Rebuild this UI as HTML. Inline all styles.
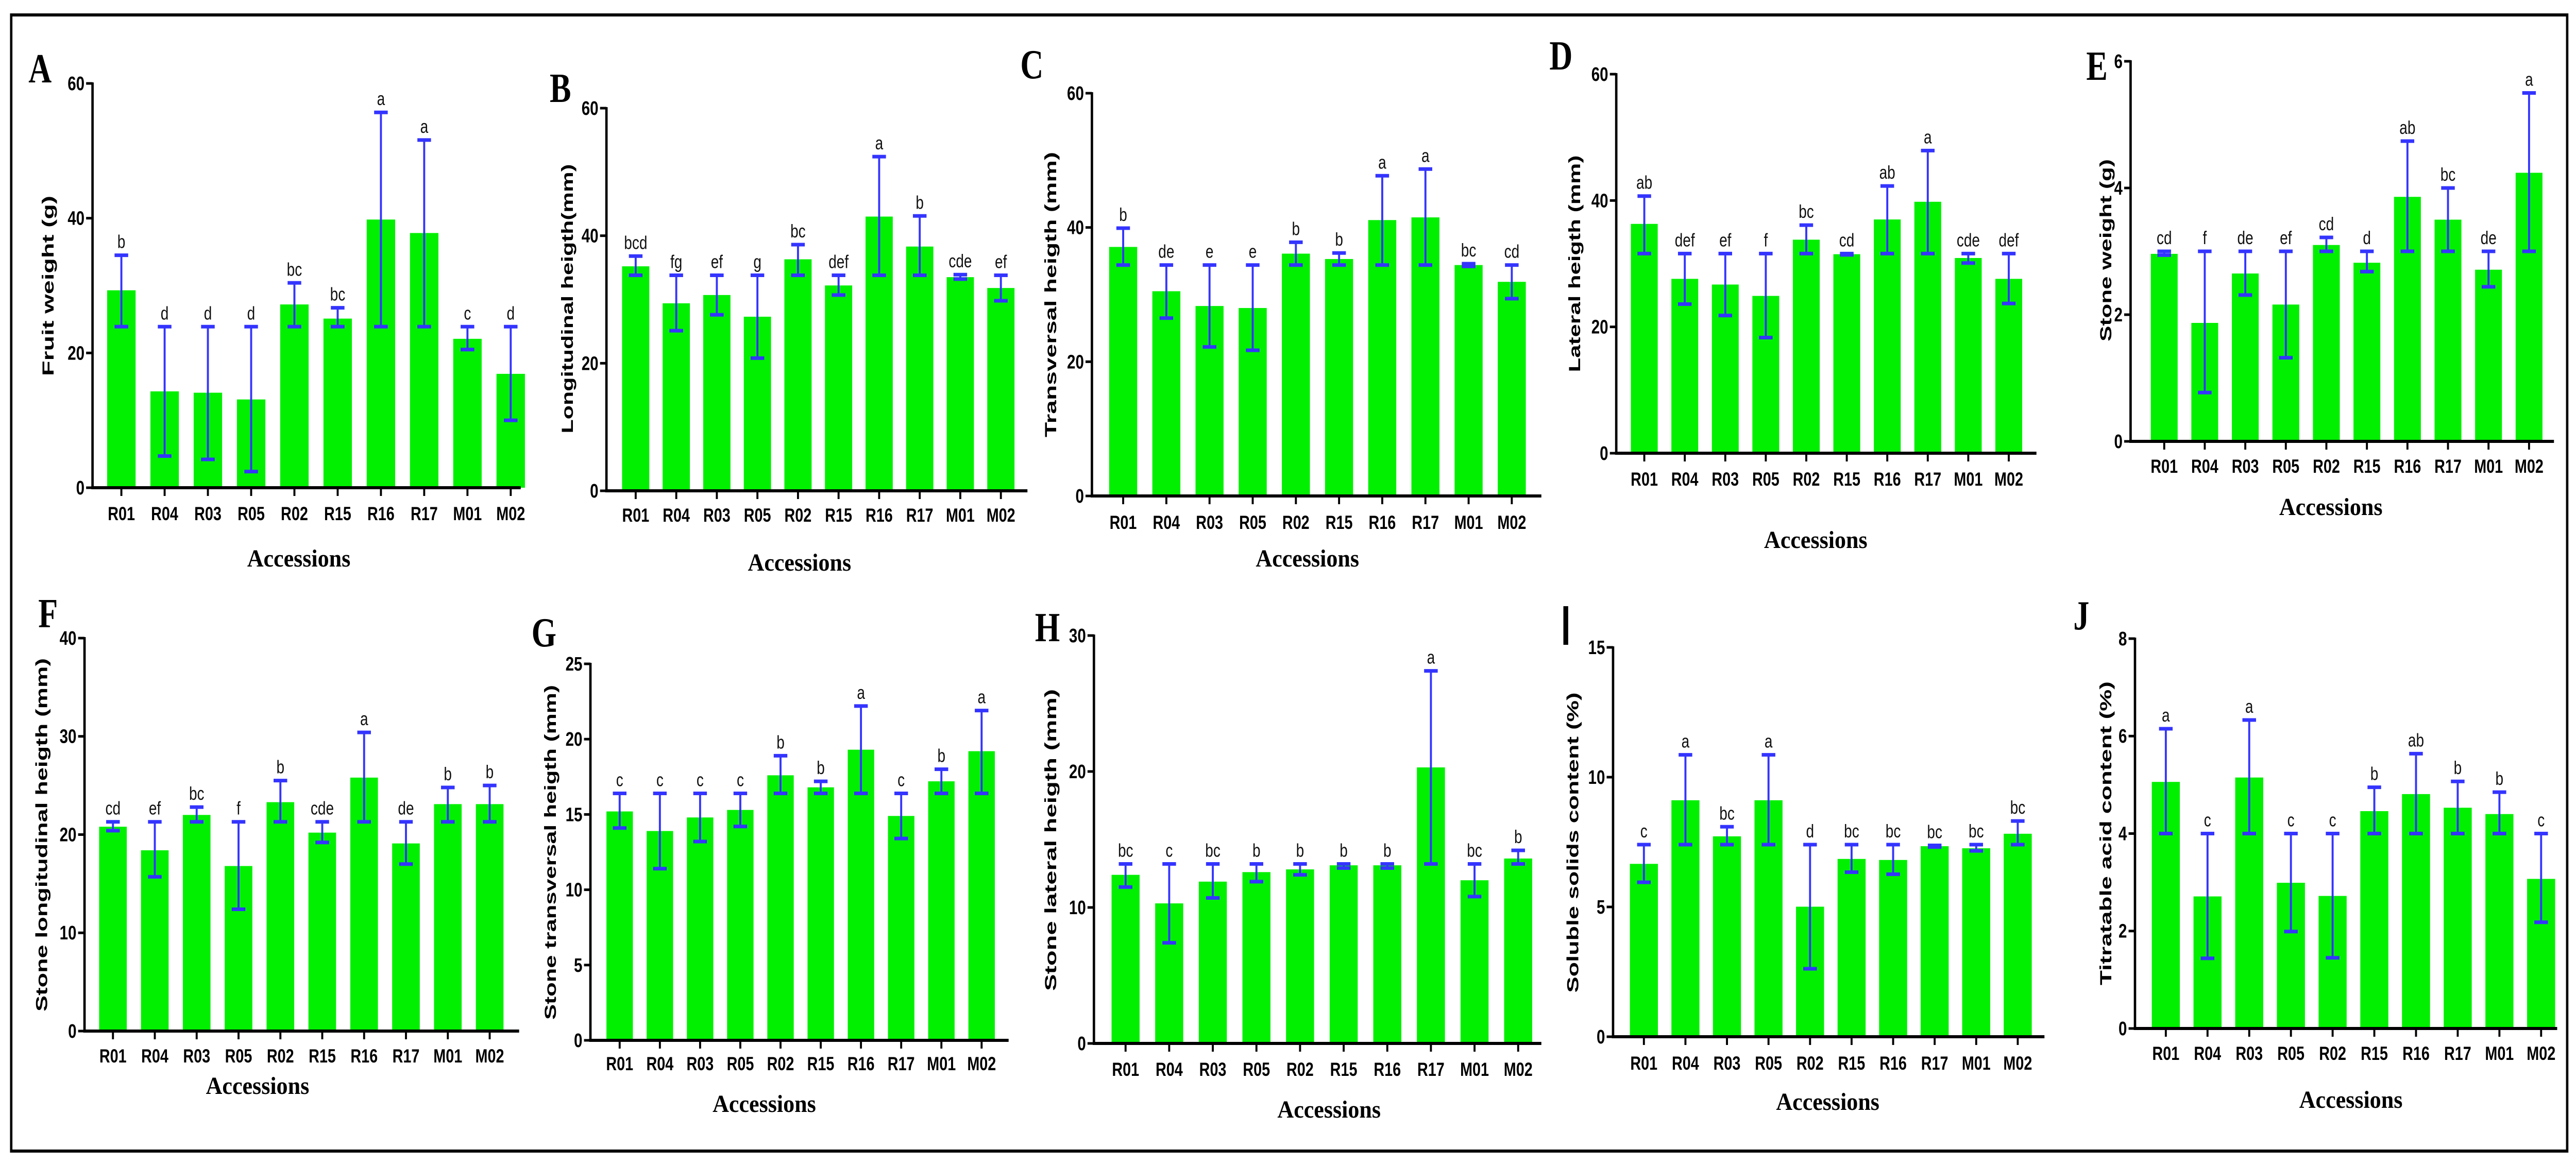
<!DOCTYPE html>
<html><head><meta charset="utf-8"><style>
html,body{margin:0;padding:0;background:#fff;width:100%;height:100%;overflow:hidden;}
svg{display:block;width:100vw;height:100vh;}
text{font-family:"Liberation Sans",Arial,sans-serif;}
.ser{font-family:"Liberation Serif","Times New Roman",serif;font-weight:bold;}
</style></head><body>
<svg id="fig" viewBox="0 0 6431 2264" preserveAspectRatio="none" xmlns="http://www.w3.org/2000/svg">
<rect x="0" y="0" width="6431" height="2264" fill="#fff"/>
<rect x="28" y="29" width="6381" height="2206" fill="none" stroke="#000" stroke-width="6"/>
<g id="plots"></g>
</svg>
<script>
const categories = ["R01","R04","R03","R05","R02","R15","R16","R17","M01","M02"];

const fruitWeightMean = [29.3,14.3,14.1,13.1,27.2,25.1,39.8,37.8,22.1,16.9];
const fruitWeightHi   = [34.5,23.9,23.9,23.9,30.4,26.7,55.7,51.6,23.9,23.9];
const fruitWeightLo   = [23.9,4.7,4.2,2.4,23.9,23.9,23.9,23.9,20.5,10.0];
const fruitWeightLetters = ["b","d","d","d","bc","bc","a","a","c","d"];

const longHeightMean = [35.2,29.4,30.7,27.3,36.3,32.2,43.0,38.3,33.5,31.8];
const longHeightHi   = [36.8,33.8,33.8,33.8,38.6,33.8,52.4,43.1,33.9,33.8];
const longHeightLo   = [33.8,25.1,27.6,20.8,33.8,30.7,33.8,33.8,33.2,29.8];
const longHeightLetters = ["bcd","fg","ef","g","bc","def","a","b","cde","ef"];

const transHeightMean = [37.1,30.5,28.3,28.0,36.1,35.3,41.1,41.5,34.4,31.9];
const transHeightHi   = [39.9,34.4,34.4,34.4,37.8,36.2,47.7,48.7,34.6,34.4];
const transHeightLo   = [34.4,26.5,22.2,21.7,34.4,34.4,34.4,34.4,34.2,29.4];
const transHeightLetters = ["b","de","e","e","b","b","a","a","bc","cd"];

const latHeightMean = [36.3,27.6,26.7,24.9,33.8,31.5,37.0,39.8,30.9,27.6];
const latHeightHi   = [40.7,31.6,31.6,31.6,36.1,31.6,42.3,47.9,31.6,31.6];
const latHeightLo   = [31.6,23.6,21.8,18.3,31.6,31.4,31.6,31.6,30.1,23.7];
const latHeightLetters = ["ab","def","ef","f","bc","cd","ab","a","cde","def"];

const stoneWeightMean = [2.96,1.87,2.65,2.16,3.10,2.82,3.86,3.50,2.71,4.24];
const stoneWeightHi   = [3.0,3.0,3.0,3.0,3.22,3.0,4.74,4.0,3.0,5.50];
const stoneWeightLo   = [2.94,0.77,2.31,1.32,3.0,2.68,3.0,3.0,2.44,3.0];
const stoneWeightLetters = ["cd","f","de","ef","cd","d","ab","bc","de","a"];

const stoneLongMean = [20.8,18.4,22.0,16.8,23.3,20.2,25.8,19.1,23.1,23.1];
const stoneLongHi   = [21.3,21.3,22.8,21.3,25.5,21.3,30.4,21.3,24.8,25.0];
const stoneLongLo   = [20.4,15.7,21.3,12.4,21.3,19.2,21.3,17.0,21.3,21.3];
const stoneLongLetters = ["cd","ef","bc","f","b","cde","a","de","b","b"];

const stoneTransMean = [15.2,13.9,14.8,15.3,17.6,16.8,19.3,14.9,17.2,19.2];
const stoneTransHi   = [16.4,16.4,16.4,16.4,18.9,17.2,22.2,16.4,18.0,21.9];
const stoneTransLo   = [14.1,11.4,13.2,14.2,16.4,16.4,16.4,13.4,16.4,16.4];
const stoneTransLetters = ["c","c","c","c","b","b","a","c","b","a"];

const stoneLatMean = [12.4,10.3,11.9,12.6,12.8,13.1,13.1,20.3,12.0,13.6];
const stoneLatHi   = [13.2,13.2,13.2,13.2,13.2,13.2,13.2,27.4,13.2,14.2];
const stoneLatLo   = [11.5,7.4,10.7,11.9,12.4,12.9,12.9,13.2,10.8,13.2];
const stoneLatLetters = ["bc","c","bc","b","b","b","b","a","bc","b"];

const solidsMean = [6.66,9.11,7.72,9.11,5.01,6.85,6.81,7.34,7.26,7.82];
const solidsHi   = [7.40,10.86,8.09,10.86,7.40,7.40,7.40,7.37,7.40,8.31];
const solidsLo   = [5.95,7.40,7.40,7.40,2.62,6.34,6.26,7.31,7.16,7.40];
const solidsLetters = ["c","a","bc","a","d","bc","bc","bc","bc","bc"];

const acidMean = [5.06,2.71,5.15,2.99,2.72,4.46,4.81,4.53,4.40,3.07];
const acidHi   = [6.15,4.0,6.33,4.0,4.0,4.95,5.64,5.07,4.85,4.0];
const acidLo   = [4.0,1.44,4.0,1.99,1.45,4.0,4.0,4.0,4.0,2.18];
const acidLetters = ["a","c","a","c","c","b","ab","b","b","c"];

const ticksA = [0,20,40,60], ticksE = [0,2,4,6], ticksF = [0,10,20,30,40],
      ticksG = [0,5,10,15,20,25], ticksH = [0,10,20,30], ticksI = [0,5,10,15], ticksJ = [0,2,4,6,8];

const NS = "http://www.w3.org/2000/svg";
const root = document.getElementById("plots");
function mk(tag, attrs, parent, txt){
  const e = document.createElementNS(NS, tag);
  for (const k in attrs) e.setAttribute(k, attrs[k]);
  if (txt !== undefined) e.textContent = txt;
  parent.appendChild(e);
  return e;
}

const panels = [
 {id:"a",L:"A",lx:100,ly:160,ax:231,y0:947,yT:162,max:60,ticks:ticksA,x0:303,dx:108,bw:71,xe:1300,tly:1010,title:"Fruit weight (g)",tx:120,ty:555,tlen:350,accx:746,accy:1100,mean:fruitWeightMean,hi:fruitWeightHi,lo:fruitWeightLo,let:fruitWeightLetters},
 {id:"b",L:"B",lx:1399,ly:198,ax:1514,y0:953,yT:210,max:60,ticks:ticksA,x0:1587,dx:101.3,bw:68,xe:2565,tly:1013,title:"Longitudinal heigth(mm)",tx:1416,ty:580,tlen:523,accx:1996,accy:1108,mean:longHeightMean,hi:longHeightHi,lo:longHeightLo,let:longHeightLetters},
 {id:"c",L:"C",lx:2576,ly:152,ax:2726,y0:963,yT:181,max:60,ticks:ticksA,x0:2804,dx:107.8,bw:70,xe:3848,tly:1027,title:"Transversal heigth (mm)",tx:2623,ty:572,tlen:554,accx:3264,accy:1100,mean:transHeightMean,hi:transHeightHi,lo:transHeightLo,let:transHeightLetters},
 {id:"d",L:"D",lx:3897,ly:135,ax:4035,y0:880,yT:144,max:60,ticks:ticksA,x0:4105,dx:101.1,bw:67,xe:5084,tly:943,title:"Lateral heigth (mm)",tx:3931,ty:512,tlen:421,accx:4533,accy:1064,mean:latHeightMean,hi:latHeightHi,lo:latHeightLo,let:latHeightLetters},
 {id:"e",L:"E",lx:5235,ly:155,ax:5319,y0:857,yT:119,max:6,ticks:ticksE,x0:5403,dx:101.2,bw:67,xe:6376,tly:918,title:"Stone weight (g)",tx:5257,ty:486,tlen:354,accx:5819,accy:1000,mean:stoneWeightMean,hi:stoneWeightHi,lo:stoneWeightLo,let:stoneWeightLetters},
 {id:"f",L:"F",lx:120,ly:1218,ax:211,y0:2002,yT:1239,max:40,ticks:ticksF,x0:282,dx:104.5,bw:69,xe:1296,tly:2063,title:"Stone longitudinal heigth (mm)",tx:104,ty:1621,tlen:686,accx:643,accy:2124,mean:stoneLongMean,hi:stoneLongHi,lo:stoneLongLo,let:stoneLongLetters},
 {id:"g",L:"G",lx:1358,ly:1255,ax:1474,y0:2020,yT:1289,max:25,ticks:ticksG,x0:1547,dx:100.4,bw:66,xe:2518,tly:2078,title:"Stone transversal heigth (mm)",tx:1374,ty:1655,tlen:650,accx:1908,accy:2159,mean:stoneTransMean,hi:stoneTransHi,lo:stoneTransLo,let:stoneTransLetters},
 {id:"h",L:"H",lx:2615,ly:1245,ax:2731,y0:2026,yT:1234,max:30,ticks:ticksH,x0:2810,dx:108.9,bw:70,xe:3848,tly:2089,title:"Stone lateral heigth (mm)",tx:2623,ty:1631,tlen:586,accx:3318,accy:2170,mean:stoneLatMean,hi:stoneLatHi,lo:stoneLatLo,let:stoneLatLetters},
 {id:"i",L:"I",lx:3909,ly:1252,ax:4027,y0:2013,yT:1257,max:15,ticks:ticksI,x0:4104,dx:103.7,bw:70,xe:5104,tly:2077,title:"Soluble solids content (%)",tx:3926,ty:1636,tlen:583,accx:4563,accy:2155,mean:solidsMean,hi:solidsHi,lo:solidsLo,let:solidsLetters},
 {id:"j",L:"J",lx:5196,ly:1222,ax:5330,y0:1997,yT:1240,max:8,ticks:ticksJ,x0:5407,dx:104.1,bw:70,xe:6384,tly:2058,title:"Titratable acid content (%)",tx:5257,ty:1618,tlen:590,accx:5869,accy:2151,mean:acidMean,hi:acidHi,lo:acidLo,let:acidLetters}
];

panels.forEach(p => {
  const g = mk("g", {}, root);
  
  
  const ys = v => p.y0 - (v / p.max) * (p.y0 - p.yT);
  const xs = i => p.x0 + i * p.dx;

  let lt;
  if (p.L === "I") {
    lt = mk("rect", {x:p.lx-6, y:p.ly-75, width:12, height:75, fill:"#000"}, g);
  } else {
    lt = mk("text", {x:p.lx, y:p.ly, "font-size":80, "text-anchor":"middle", class:"ser"}, g, p.L);
  }
  
  

  p.mean.forEach((v, i) => {
    const b = mk("rect", {x:xs(i)-p.bw/2, y:ys(v), width:p.bw, height:p.y0-ys(v), fill:"#00f000"}, g);
    
    
  });
  p.mean.forEach((v, i) => {
    const eg = mk("g", {stroke:"#3434ff", "stroke-width":5}, g);
    
    
    const x = xs(i), yh = ys(p.hi[i]), yl = ys(p.lo[i]);
    mk("line", {x1:x, x2:x, y1:yh, y2:yl}, eg);
    mk("line", {x1:x-17, x2:x+17, y1:yh, y2:yh, "stroke-width":7}, eg);
    mk("line", {x1:x-17, x2:x+17, y1:yl, y2:yl, "stroke-width":7}, eg);
    const t = mk("text", {x:x, y:yh-14, "font-size":36, "text-anchor":"middle", fill:"#111"}, g, p.let[i]);
    
    
  });

  const ya = mk("line", {x1:p.ax, x2:p.ax, y1:p.yT-2, y2:p.y0+3, stroke:"#000", "stroke-width":6}, g);
  
  
  const xa = mk("line", {x1:p.ax-3, x2:p.xe, y1:p.y0, y2:p.y0, stroke:"#000", "stroke-width":6}, g);
  
  

  p.ticks.forEach(v => {
    const y = ys(v);
    mk("line", {x1:p.ax-16, x2:p.ax, y1:y, y2:y, stroke:"#000", "stroke-width":5}, g);
    const t = mk("text", {x:p.ax-20, y:y+13, "font-size":38, "font-weight":"bold", "text-anchor":"end"}, g, String(v));
    
    
  });
  categories.forEach((c, i) => {
    const x = xs(i);
    mk("line", {x1:x, x2:x, y1:p.y0, y2:p.y0+16, stroke:"#000", "stroke-width":5}, g);
    const t = mk("text", {x:x, y:p.tly, "font-size":37, "font-weight":"bold", "text-anchor":"middle"}, g, c);
    
    
  });

  const yt = mk("text", {x:0, y:0, "font-size":40, "font-weight":"bold", "text-anchor":"middle",
    textLength:p.tlen, lengthAdjust:"spacingAndGlyphs",
    transform:"translate(" + (p.tx + 14) + "," + p.ty + ") rotate(-90)"}, g, p.title);
  
  

  const xt = mk("text", {x:p.accx, y:p.accy, "font-size":48, "text-anchor":"middle", class:"ser",
    textLength:258, lengthAdjust:"spacingAndGlyphs"}, g, "Accessions");
  
  
});
</script>
</body></html>
